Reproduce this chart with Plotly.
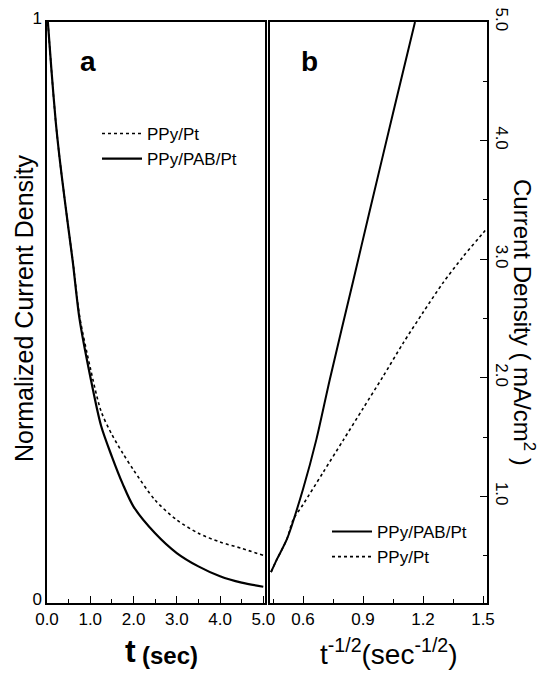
import plotly.graph_objects as go

# Panel a: normalized current density vs time
t_solid = [0.02, 0.1, 0.2, 0.3, 0.4, 0.5, 0.6, 0.75, 1.0, 1.25, 1.5, 1.75, 2.0, 2.5, 3.0, 3.5, 4.0, 4.5, 5.0]
a_pab = [1.0, 0.92, 0.83, 0.76, 0.70, 0.642, 0.585, 0.49, 0.39, 0.305, 0.252, 0.205, 0.166, 0.120, 0.086, 0.063, 0.046, 0.035, 0.028]
t_dot = [0.02, 0.1, 0.2, 0.3, 0.4, 0.5, 0.6, 0.75, 1.0, 1.25, 1.5, 1.75, 2.0, 2.5, 3.0, 3.5, 4.0, 4.5, 5.0]
a_pt = [1.0, 0.92, 0.83, 0.76, 0.70, 0.642, 0.587, 0.495, 0.405, 0.33, 0.29, 0.258, 0.229, 0.177, 0.143, 0.120, 0.105, 0.094, 0.082]

# Panel b: current density vs t^-1/2
x_pab = [0.44, 0.47, 0.52, 0.6, 0.667, 0.734, 0.85, 0.934, 1.05, 1.16]
b_pab = [0.36, 0.47, 0.64, 1.06, 1.48, 1.985, 2.81, 3.41, 4.23, 5.0]
x_pt = [0.44, 0.47, 0.52, 0.55, 0.6, 0.7, 0.8, 0.9, 1.0, 1.1, 1.2, 1.3, 1.4, 1.5, 1.52]
b_pt = [0.36, 0.47, 0.64, 0.80, 0.93, 1.20, 1.47, 1.74, 2.01, 2.29, 2.55, 2.80, 3.02, 3.22, 3.26]

a_xticks = [0, 1, 2, 3, 4, 5]
a_xlabels = ["0.0", "1.0", "2.0", "3.0", "4.0", "5.0"]

FONT = "Liberation Sans, Arial, sans-serif"
BODY = 8  # default page body margin
W, H = 547 - BODY, 677 - BODY
# plot area in screen pixels
L, R, T, B = 47, 487, 22, 603

def px(x):
    return (x - L) / (R - L)

def py(y):
    return (B - y) / (B - T)

fig = go.Figure()

fig.add_trace(go.Scatter(x=t_dot, y=a_pt, mode="lines", name="PPy/Pt",
                         line=dict(color="black", width=1.6, dash="dot", shape="spline", smoothing=0.8),
                         xaxis="x", yaxis="y", legend="legend"))
fig.add_trace(go.Scatter(x=t_solid, y=a_pab, mode="lines", name="PPy/PAB/Pt",
                         line=dict(color="black", width=2.2, shape="spline", smoothing=0.8),
                         xaxis="x", yaxis="y", legend="legend"))
fig.add_trace(go.Scatter(x=x_pab, y=b_pab, mode="lines", name="PPy/PAB/Pt",
                         line=dict(color="black", width=2.0, shape="spline", smoothing=0.8),
                         xaxis="x2", yaxis="y2", legend="legend2"))
fig.add_trace(go.Scatter(x=x_pt, y=b_pt, mode="lines", name="PPy/Pt",
                         line=dict(color="black", width=1.6, dash="dot", shape="spline", smoothing=0.8),
                         xaxis="x2", yaxis="y2", legend="legend2"))

axis_common = dict(showgrid=False, zeroline=False, showline=True, linecolor="black",
                   linewidth=1.5, mirror=True, tickcolor="black", automargin=False,
                   tickfont=dict(family=FONT, size=17, color="black"))

da = [0, px(265)]
db = [px(270), 1]

fig.update_layout(
    width=W, height=H,
    margin=dict(l=L - BODY, r=547 - R, t=T - BODY, b=677 - B),
    paper_bgcolor="white", plot_bgcolor="white",
    font=dict(family=FONT, color="black"),
    xaxis=dict(domain=da, range=[0, 5.04], tickvals=a_xticks, ticktext=a_xlabels,
               ticks="inside", ticklen=7, tickwidth=1.2,
               minor=dict(ticks="inside", dtick=0.5, tick0=0, ticklen=4, tickcolor="black"),
               anchor="y", **axis_common),
    yaxis=dict(domain=[0, 1], range=[0, 1], tickvals=[0, 1], ticktext=["0", "1"],
               ticks="", ticklabelshift=-4, ticklabeloverflow="allow", anchor="x", **axis_common),
    xaxis2=dict(domain=db, range=[0.435, 1.52], tick0=0.6, dtick=0.3, tickformat=".1f",
                ticks="inside", ticklen=7, tickwidth=1.2,
                minor=dict(ticks="inside", dtick=0.15, tick0=0.45, ticklen=4, tickcolor="black"),
                anchor="y2", **axis_common),
    yaxis2=dict(domain=[0, 1], range=[0.1, 5.0], side="right", tick0=0, dtick=1,
                tickformat=".1f", tickangle=90, ticklabeloverflow="allow",
                ticks="inside", ticklen=7, tickwidth=1.2,
                minor=dict(ticks="inside", dtick=0.5, tick0=0.5, ticklen=4, tickcolor="black"),
                anchor="x2", **axis_common),
    legend=dict(x=px(97), y=py(116), xanchor="left", yanchor="top",
                bgcolor="rgba(0,0,0,0)", font=dict(family=FONT, size=17, color="black"),
                tracegroupgap=0, itemwidth=40),
    legend2=dict(x=px(327), y=py(514), xanchor="left", yanchor="top",
                 bgcolor="rgba(0,0,0,0)", font=dict(family=FONT, size=17, color="black"),
                 tracegroupgap=0, itemwidth=40),
    showlegend=True,
)

ann = [
    dict(text="<b>a</b>", x=px(88), y=py(62), font=dict(size=28)),
    dict(text="<b>b</b>", x=px(309), y=py(62), font=dict(size=28)),
    dict(text="Normalized Current Density", x=px(24), y=py(308), textangle=-90, font=dict(size=25)),
    dict(text="Current Density ( mA/cm<sup>2</sup> )", x=px(524), y=py(322), textangle=90, font=dict(size=24)),
    dict(text="<b>t</b>", x=px(130), y=py(651), font=dict(size=32)),
    dict(text="<b>(sec)</b>", x=px(170), y=py(655), font=dict(size=24)),
    dict(text="t<sup>-1/2</sup>(sec<sup>-1/2</sup>)", x=px(389), y=py(652), font=dict(size=28)),
]
for a in ann:
    a.update(xref="paper", yref="paper", showarrow=False, xanchor="center", yanchor="middle")
    a["font"].update(family=FONT, color="black")
    fig.add_annotation(**a)

fig.write_html("out.html")
